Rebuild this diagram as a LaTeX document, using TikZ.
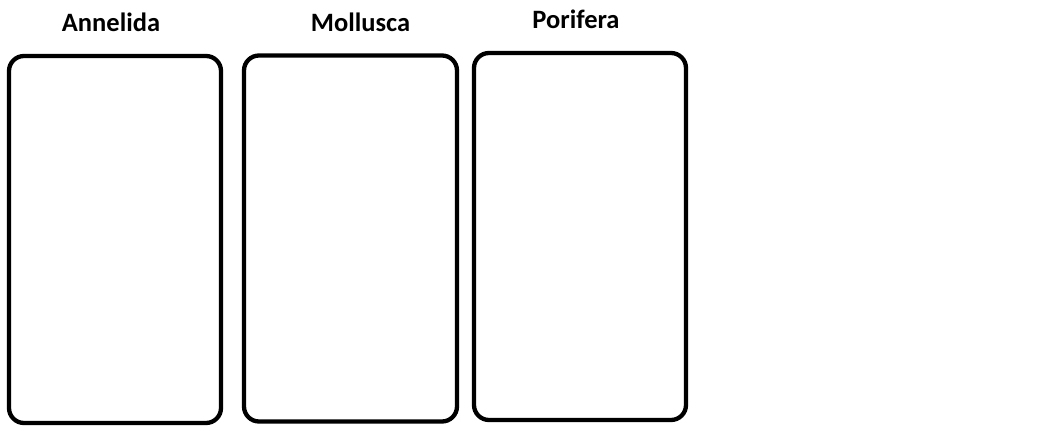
\documentclass[tikz,border=0pt]{standalone}
\usepackage{fontspec}
\setmainfont{Carlito}
\begin{document}
\begin{tikzpicture}[x=1pt,y=-1pt,
  card/.style={draw=black,line width=4.3pt,rounded corners=15pt,inner sep=0pt,outer sep=0pt,anchor=north west},
  title/.style={font=\bfseries\fontsize{26.5}{30}\selectfont,anchor=base,inner sep=0pt}]
\useasboundingbox (0,0) rectangle (1050,446);
\node[card,minimum width=212pt,minimum height=367pt] (annelida) at (9,56) {};
\node[card,minimum width=213pt,minimum height=366pt] (mollusca) at (244,55.5) {};
\node[card,minimum width=212pt,minimum height=367pt] (porifera) at (474,53) {};
\node[title] (t1) at (111,32) {Annelida};
\node[title] (t2) at (360.5,32) {Mollusca};
\node[title] (t3) at (576,29) {Porifera};
\end{tikzpicture}
\end{document}
